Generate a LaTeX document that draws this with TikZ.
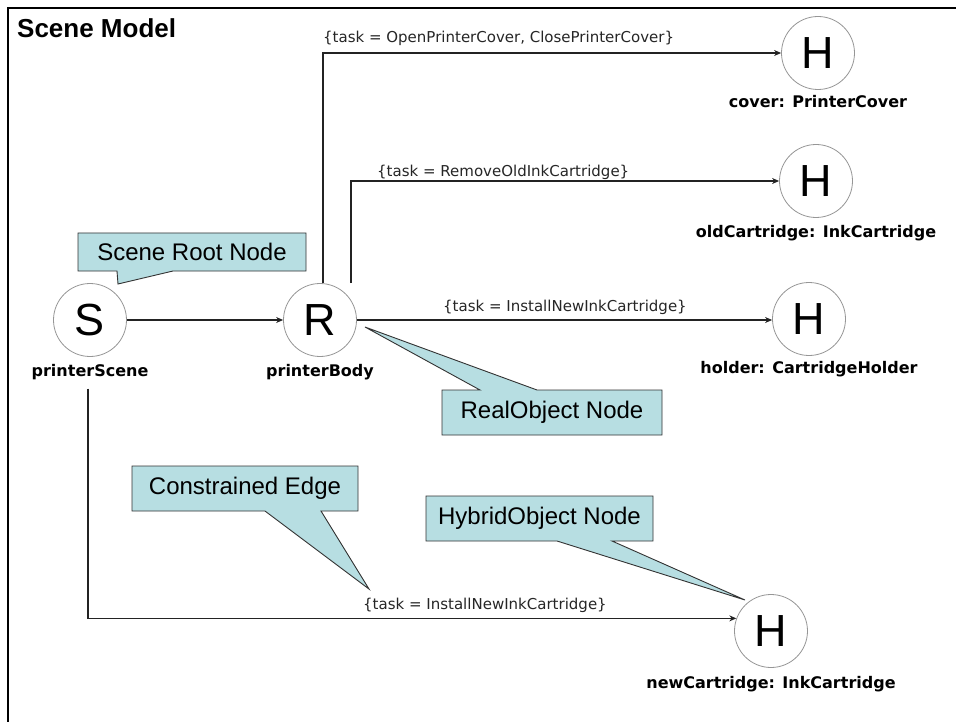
\documentclass[tikz,border=0pt]{standalone}
\usepackage{fontspec}
\setmainfont{Liberation Sans}
\newfontfamily\lblfont{DejaVu Sans}
\usetikzlibrary{arrows.meta,calc}

\definecolor{calloutfill}{RGB}{183,222,226}
\definecolor{ringgray}{RGB}{150,150,150}
\definecolor{edgegray}{RGB}{35,35,35}

\begin{document}
\begin{tikzpicture}[x=1pt,y=-1pt,
  objnode/.style={circle, draw=ringgray, line width=0.8pt, fill=white,
    minimum size=73pt, inner sep=0pt, font=\fontsize{45}{45}\selectfont},
  objlabel/.style={anchor=base, inner sep=0pt,
    font=\lblfont\bfseries\fontsize{16}{16}\selectfont},
  tasklabel/.style={anchor=base west, inner sep=0pt, text=black!85,
    font=\lblfont\fontsize{15}{15}\selectfont},
  edge/.style={draw=edgegray, line width=1.1pt,
    -{Stealth[length=7pt,width=6pt]}},
  callout/.style={fill=calloutfill, draw=black!80, line width=0.9pt},
  callouttext/.style={inner sep=0pt, font=\fontsize{24}{24}\selectfont},
]
% canvas
\useasboundingbox (0,0) rectangle (956,722);
\fill[white] (0,0) rectangle (956,722);
\draw[line width=2.4pt] (8,722) -- (8,8) -- (956,8);

\node[anchor=base west, inner sep=0pt, font=\bfseries\fontsize{26}{26}\selectfont]
  (title) at (17,38) {Scene Model};

% scene graph nodes
\node[objnode] (S) at (90,320) {S};
\node[objnode] (R) at (320,320) {R};
\node[objnode] (cover) at (818,53) {H};
\node[objnode] (old) at (816,181) {H};
\node[objnode] (holder) at (809,319) {H};
\node[objnode] (new) at (771,631) {H};

\node[objlabel] (Slbl) at (90,376) {printerScene};
\node[objlabel] (Rlbl) at (320,376) {printerBody};
\node[objlabel] (coverlbl) at (818,108) {cover: PrinterCover};
\node[objlabel] (oldlbl) at (816,237) {oldCartridge: InkCartridge};
\node[objlabel] (holderlbl) at (809,373) {holder: CartridgeHolder};
\node[objlabel] (newlbl) at (771,688) {newCartridge: InkCartridge};

% edges
\coordinate (r1) at ($(R.north)+(3,0)$);
\coordinate (r2) at ($(R.north)+(31,0)$);
\coordinate (s1) at ($(Slbl.south)+(-2,9)$);

\draw[edge] (S) -- (R);
\draw[edge] (r1) |- (cover);
\draw[edge] (r2) |- (old);
\draw[edge] (R.east) -- (R.east -| holder.west);
\draw[edge] (s1) |- (new.160);

\node[tasklabel] (t1) at (323,43) {\{task = OpenPrinterCover, ClosePrinterCover\}};
\node[tasklabel] (t2) at (377,177) {\{task = RemoveOldInkCartridge\}};
\node[tasklabel] (t3) at (443,311) {\{task = InstallNewInkCartridge\}};
\node[tasklabel] (t4) at (363,609) {\{task = InstallNewInkCartridge\}};

% callouts
\draw[callout] (78,233) -- (306,233) -- (306,271) -- (173,271) -- (118,284)
  -- (117,271) -- (78,271) -- cycle;
\node[callouttext] (c1) at (192,252) {Scene Root Node};

\draw[callout] (442,390) -- (480,390) -- (365,327) -- (537,390) -- (662,390)
  -- (662,435) -- (442,435) -- cycle;
\node[callouttext] (c2) at (552,412.5) {RealObject Node};

\draw[callout] (132,466) -- (358,466) -- (358,511) -- (321,511) -- (369,589)
  -- (265,511) -- (132,511) -- cycle;
\node[callouttext] (c3) at (245,488.5) {Constrained Edge};

\draw[callout] (426,496) -- (653,496) -- (653,541) -- (612,541) -- (745,600)
  -- (557,541) -- (426,541) -- cycle;
\node[callouttext] (c4) at (539.5,518.5) {HybridObject Node};
\end{tikzpicture}
\end{document}
